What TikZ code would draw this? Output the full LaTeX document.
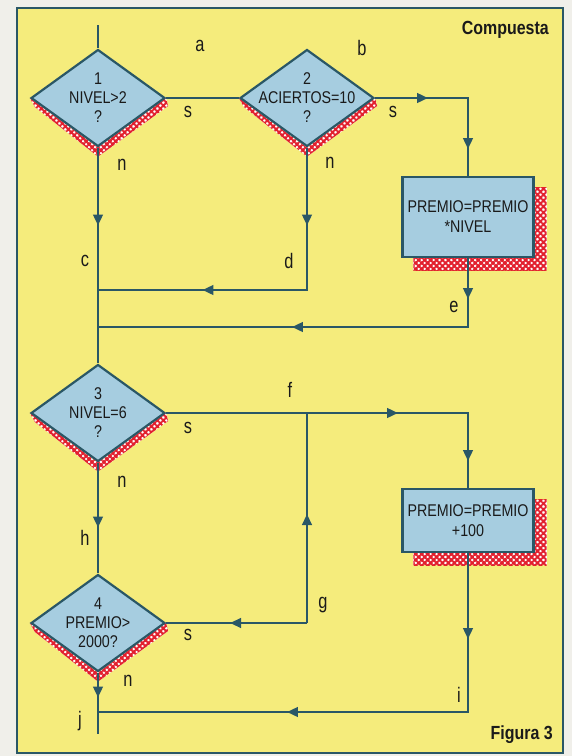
\documentclass[tikz,border=0pt]{standalone}
\usepackage{fontspec}
\setmainfont{Liberation Sans}
\newfontfamily\cf[FakeStretch=0.84]{Liberation Sans}
\newfontfamily\lf[FakeStretch=0.78]{Liberation Sans}
\usetikzlibrary{shapes.geometric,arrows.meta,decorations.markings,patterns.meta}
\pgfdeclarelayer{bg}
\pgfsetlayers{bg,main}
\definecolor{panel}{HTML}{F5EC7C}
\definecolor{ink}{HTML}{2A5766}
\definecolor{shapefill}{HTML}{A6CDE0}
\definecolor{hatchred}{HTML}{E2202E}
\definecolor{outside}{HTML}{F0EFEA}
\definecolor{txt}{HTML}{1A1A1A}
\begin{document}
\begin{tikzpicture}[x=1pt,y=-1pt,
  dia/.style={diamond, draw=ink, fill=shapefill, line width=2.2pt,
    minimum width=134pt, minimum height=97pt, inner sep=0pt},
  dtext/.style={align=center, text=txt, inner sep=0pt,
    font=\cf\fontsize{17}{19}\selectfont},
  procbox/.style={rectangle, draw=ink, fill=shapefill, line width=2.2pt,
    minimum width=131pt, inner sep=0pt, align=center, text=txt,
    font=\cf\fontsize{17}{20}\selectfont},
  lab/.style={text=txt, inner sep=0pt, font=\lf\fontsize{21}{22}\selectfont},
  flow/.style={draw=ink, line width=2.5pt, line join=miter},
  arr/.style={postaction={decorate, decoration={markings,
    mark=at position #1 with {\arrow[ink]{Triangle[length=11pt,width=9.5pt]}}}}},
  hatch/.style={preaction={fill=white},
    pattern={Hatch[angle=45,distance=4.2pt,line width=2pt]}, pattern color=hatchred}
]
\useasboundingbox (0,0) rectangle (572,756);

% shapes
\node[dia] (d1) at (98,98) {};
\node[dia] (d2) at (307,98) {};
\node[dia] (d3) at (98,413) {};
\node[dia] (d4) at (98,623) {};
\node[dtext] (t1) at (d1) {1\\NIVEL>2\\?};
\node[dtext] (t2) at (d2) {2\\ACIERTOS=10\\?};
\node[dtext] (t3) at (d3) {3\\NIVEL=6\\?};
\node[dtext] (t4) at (d4) {4\\PREMIO>\\2000?};
\node[procbox, minimum height=80pt] (b1) at (468,217) {PREMIO=PREMIO\\*NIVEL};
\node[procbox, minimum height=63pt] (b2) at (468,520.5) {PREMIO=PREMIO\\+100};

\begin{pgfonlayer}{bg}
  \fill[outside] (0,0) rectangle (572,756);
  \draw[ink, line width=2pt, fill=panel] (17,8) rectangle (563,753);
  \foreach \d in {d1,d2,d3,d4}{
    \path[hatch] ([shift={(5,9)}]\d.west) -- ([shift={(0,9)}]\d.south)
      -- ([shift={(2,8)}]\d.east) -- (\d.east) -- (\d.south) -- (\d.west) -- cycle;
  }
  \foreach \b in {b1,b2}{
    \path[hatch] ([shift={(12,12)}]\b.north west) rectangle ([shift={(12,12)}]\b.south east);
  }
\end{pgfonlayer}

% junction coordinates
\coordinate (start) at (98,25);
\coordinate (k1) at (468,98);
\coordinate (k2) at (307,290);
\coordinate (j1) at (98,290);
\coordinate (k3) at (468,327);
\coordinate (j2) at (98,327);
\coordinate (k4) at (468,413);
\coordinate (fj) at (307,413);
\coordinate (gc) at (307,623);
\coordinate (k5) at (468,712);
\coordinate (j3) at (98,712);
\coordinate (fin) at (98,734);

% connectors
\draw[flow] (start) -- (d1.north);
\draw[flow] (d1.east) -- (d2.west);
\draw[flow, arr=53pt, arr=144pt] (d2.east) -- (k1) -- (b1.north);
\draw[flow, arr=78pt] (d1.south) -- (d3.north);
\draw[flow, arr=78pt, arr=247pt] (d2.south) -- (k2) -- (j1);
\draw[flow, arr=41pt, arr=245pt] (b1.south) -- (k3) -- (j2);
\draw[flow, arr=232pt, arr=350pt] (d3.east) -- (k4) -- (b2.north);
\draw[flow, arr=65pt] (d3.south) -- (d4.north);
\draw[flow, arr=77pt] (gc) -- (d4.east);
\draw[flow, arr=109pt] (gc) -- (fj);
\draw[flow, arr=86pt, arr=340pt] (b2.south) -- (k5) -- (j3);
\draw[flow, arr=25pt] (d4.south) -- (fin);

% labels
\node[lab] (la) at (200,46) {a};
\node[lab] (lb) at (362,48) {b};
\node[lab] (ls1) at (188,112) {s};
\node[lab] (ls2) at (393,112) {s};
\node[lab] (ln1) at (122,165) {n};
\node[lab] (ln2) at (330,163) {n};
\node[lab] (lc) at (85,261) {c};
\node[lab] (ld) at (289,261) {d};
\node[lab] (le) at (454,307) {e};
\node[lab] (lf) at (290,390) {f};
\node[lab] (ls3) at (188,428) {s};
\node[lab] (ln3) at (122,482) {n};
\node[lab] (lh) at (85,538) {h};
\node[lab] (lg) at (323,605) {g};
\node[lab] (ls4) at (188,635) {s};
\node[lab] (ln4) at (128,681) {n};
\node[lab] (li) at (459,695) {i};
\node[lab] (lj) at (80,721) {j};
\node[text=txt, inner sep=0pt, anchor=east, font=\cf\bfseries\fontsize{19}{20}\selectfont] (title) at (549,30) {Compuesta};
\node[text=txt, inner sep=0pt, anchor=east, font=\cf\bfseries\fontsize{19}{20}\selectfont] (fig) at (553,735) {Figura 3};
\end{tikzpicture}
\end{document}
